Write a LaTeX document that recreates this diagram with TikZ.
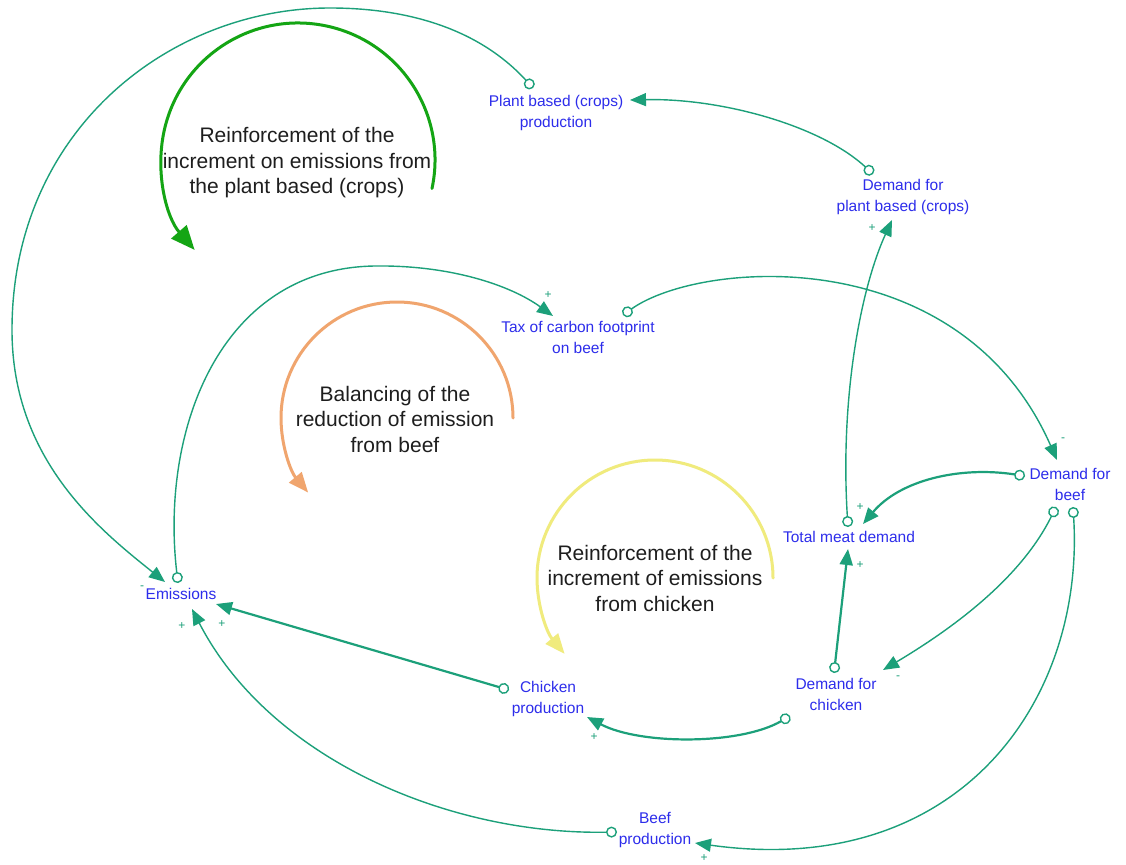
\documentclass[tikz,border=0pt]{standalone}
\usepackage{fontspec}
\setmainfont{Liberation Sans}
\usetikzlibrary{arrows.meta}
\definecolor{linkc}{RGB}{28,160,122}
\definecolor{varc}{RGB}{45,45,235}
\definecolor{loopgreen}{RGB}{20,165,20}
\definecolor{looporange}{RGB}{240,165,110}
\definecolor{loopyellow}{RGB}{240,235,125}
\definecolor{looptext}{RGB}{30,30,30}
\begin{document}
\begin{tikzpicture}[x=1pt,y=-1pt,
  var/.style={text=varc, font=\fontsize{15.5}{21}\selectfont, align=center, inner sep=0pt},
  looplabel/.style={text=looptext, font=\fontsize{21}{25.5}\selectfont, align=center, inner sep=0pt},
  link/.style={draw=linkc, line width=1.4pt,
    {Circle[open,fill=white,length=11pt,width=11pt,line width=1.4pt]}-{Triangle[length=16pt,width=13pt]}},
  heavy link/.style={link, line width=2.2pt},
  sign/.style={text=linkc, font=\fontsize{12}{12}\selectfont, inner sep=0pt},
  loopline/.style={line width=3pt, line cap=round},
]
\useasboundingbox (0,0) rectangle (1126,864);
\fill[white] (0,0) rectangle (1126,864);

% variables
\node[var] (plant)  at (556,113) {Plant based (crops)\\production};
\node[var] (dplant) at (903,197) {Demand for\\plant based (crops)};
\node[var] (tax)    at (578,337) {Tax of carbon footprint\\on beef};
\node[var] (dbeef)  at (1070,484) {Demand for\\beef};
\node[var] (total)  at (849,537) {Total meat demand};
\node[var] (emis)   at (181,594) {Emissions};
\node[var] (chick)  at (548,699) {Chicken\\production};
\node[var] (dchick) at (836,694) {Demand for\\chicken};
\node[var] (beefp)  at (655,830) {Beef\\production};

% loop descriptions
\node[looplabel] (loopA) at (297,163) {Reinforcement of the\\increment on emissions from\\the plant based (crops)};
\node[looplabel] (loopB) at (395,419) {Balancing of the\\reduction of emission\\from beef};
\node[looplabel] (loopC) at (655,578) {Reinforcement of the\\increment of emissions\\from chicken};

% loop arcs
\draw[loopline, draw=loopgreen, -{Triangle[length=24pt,width=20pt,fill=loopgreen]}]
  ([shift={(12:137)}]298,160) arc[start angle=12, end angle=-221, radius=137];
\draw[loopline, draw=looporange, -{Triangle[length=20pt,width=16pt,fill=looporange]}]
  ([shift={(0:116)}]397,418) arc[start angle=0, end angle=-220, radius=116];
\draw[loopline, draw=loopyellow, -{Triangle[length=20pt,width=16pt,fill=loopyellow]}]
  ([shift={(0:118)}]655,578) arc[start angle=0, end angle=-220, radius=118];

% causal links
\draw[link] ([shift={(-23,-25)}]plant.center) .. controls (480,30) and (410,8) .. (330,8)
  .. controls (170,8) and (12,130) .. (12,330)
  .. controls (12,460) and (100,530) .. ([shift={(-16,-12)}]emis.center);
\draw[link] ([shift={(-30,-23)}]dplant.center) .. controls (820,125) and (720,98) .. ([shift={(74,-13)}]plant.center);
\draw[link] ([shift={(-1,-10)}]total.center) .. controls (840,400) and (860,290) .. ([shift={(-11,23)}]dplant.center);
\draw[link] ([shift={(-3,-11)}]emis.center) .. controls (160,430) and (220,268) .. (375,266)
  .. controls (450,265) and (510,285) .. ([shift={(-25,-21)}]tax.center);
\draw[link] ([shift={(45,-22)}]tax.center) .. controls (700,260) and (960,240) .. ([shift={(-13,-24)}]dbeef.center);
\draw[heavy link] ([shift={(-45,-8)}]dbeef.center) .. controls (960,466) and (900,480) .. ([shift={(14,-13)}]total.center);
\draw[link] ([shift={(-14,23)}]dbeef.center) .. controls (1020,580) and (950,630) .. ([shift={(47,-24)}]dchick.center);
\draw[link] ([shift={(3,23)}]dbeef.center) .. controls (1085,700) and (960,880) .. ([shift={(40,13)}]beefp.center);
\draw[heavy link] ([shift={(-2,-21)}]dchick.center) -- ([shift={(-1,12)}]total.center);
\draw[heavy link] ([shift={(-46,22)}]dchick.center) .. controls (740,745) and (640,745) .. ([shift={(39,18)}]chick.center);
\draw[heavy link] ([shift={(-39,-9)}]chick.center) -- ([shift={(35,10)}]emis.center);
\draw[link] ([shift={(-38,2)}]beefp.center) .. controls (450,835) and (270,760) .. ([shift={(11,15)}]emis.center);

% link polarities
\node[sign] (p1) at (548,295) {+};
\node[sign] (p2) at (1063,440) {-};
\node[sign] (p3) at (872,228) {+};
\node[sign] (p4) at (860,507) {+};
\node[sign] (p5) at (860,565) {+};
\node[sign] (p6) at (898,678) {-};
\node[sign] (p7) at (594,737) {+};
\node[sign] (p8) at (704,858) {+};
\node[sign] (p9) at (222,624) {+};
\node[sign] (p10) at (182,626) {+};
\node[sign] (p11) at (142,588) {-};
\end{tikzpicture}
\end{document}
